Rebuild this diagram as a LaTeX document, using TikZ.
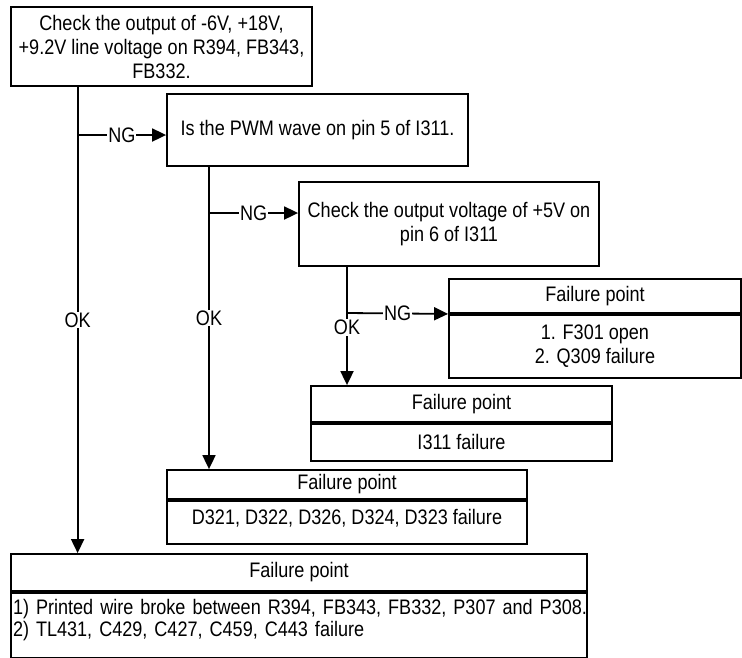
\documentclass[tikz,border=0pt]{standalone}
\usepackage{fontspec}
\setmainfont[FakeStretch=0.86]{Liberation Sans}
\usetikzlibrary{positioning, arrows.meta}

\begin{document}
\begin{tikzpicture}[
        x=1pt, y=-1pt,
        node distance=0pt,
        font=\fontsize{21}{24}\selectfont,
        box/.style={draw, line width=1.8pt, align=center, inner xsep=2pt, inner ysep=0pt},
        arrow/.style={-{Triangle[length=14pt, width=13pt]}, line width=1.8pt},
        tag/.style={fill=white, inner sep=1pt}
    ]
        \useasboundingbox (0,0) rectangle (742,657);

        % checks
        \node[box, minimum width=301pt, minimum height=79pt] (chk) at (161.5,46.5) {Check the output of -6V, +18V,\\+9.2V line voltage on R394, FB343,\\FB332.};
        \node[box, minimum width=301pt, minimum height=72pt] (pwm) at (317.5,130) {Is the PWM wave on pin 5 of I311.};
        \node[box, minimum width=300pt, minimum height=84pt] (volt) at (449,224) {Check the output voltage of +5V on\\pin 6 of I311};

        % failure points
        \node[box, minimum width=292pt, minimum height=34pt] (fp1h) at (595,296) {Failure point};
        \node[box, below=of fp1h, minimum width=292pt, minimum height=63pt] (fp1b) {1. F301 open\\2. Q309 failure};
        \node[box, minimum width=301pt, minimum height=36pt] (fp2h) at (461.5,404) {Failure point};
        \node[box, below=of fp2h, minimum width=301pt, minimum height=37pt] (fp2b) {I311 failure};
        \node[box, minimum width=360pt, minimum height=29pt] (fp3h) at (347,484.5) {Failure point};
        \node[box, below=of fp3h, minimum width=360pt, minimum height=43pt, text depth=10pt] (fp3b) {D321, D322, D326, D324, D323 failure};
        \node[box, minimum width=576pt, minimum height=37pt] (fp4h) at (299,572.5) {Failure point};
        \node[box, below=of fp4h, text width=572pt, minimum height=65pt, align=left, font=\fontsize{21}{22}\selectfont] (fp4b) {\mbox{1) Printed wire broke between R394, FB343, FB332, P307 and P308.}\\\mbox{2) TL431, C429, C427, C459, C443 failure}\\[-8pt]\mbox{}};

        \coordinate (j1) at (77.6,135);
        \coordinate (j2) at (209,213);
        \coordinate (j3) at (347,313);

        \draw[arrow] (chk.south -| j1) -- (fp4h.north -| j1) node[midway, tag] {OK};
        \draw[arrow] (j1) -- (j1 -| pwm.west) node[midway, tag] {NG};
        \draw[arrow] (pwm.south -| j2) -- (fp3h.north -| j2) node[midway, tag] {OK};
        \draw[arrow] (j2) -- (j2 -| volt.west) node[midway, tag] {NG};
        \draw[arrow] (volt.south -| j3) -- (fp2h.north -| j3) node[pos=0.51, tag] {OK};
        \draw[arrow] (j3) -- (fp1h.south west) node[midway, tag] {NG};
\end{tikzpicture}
\end{document}
